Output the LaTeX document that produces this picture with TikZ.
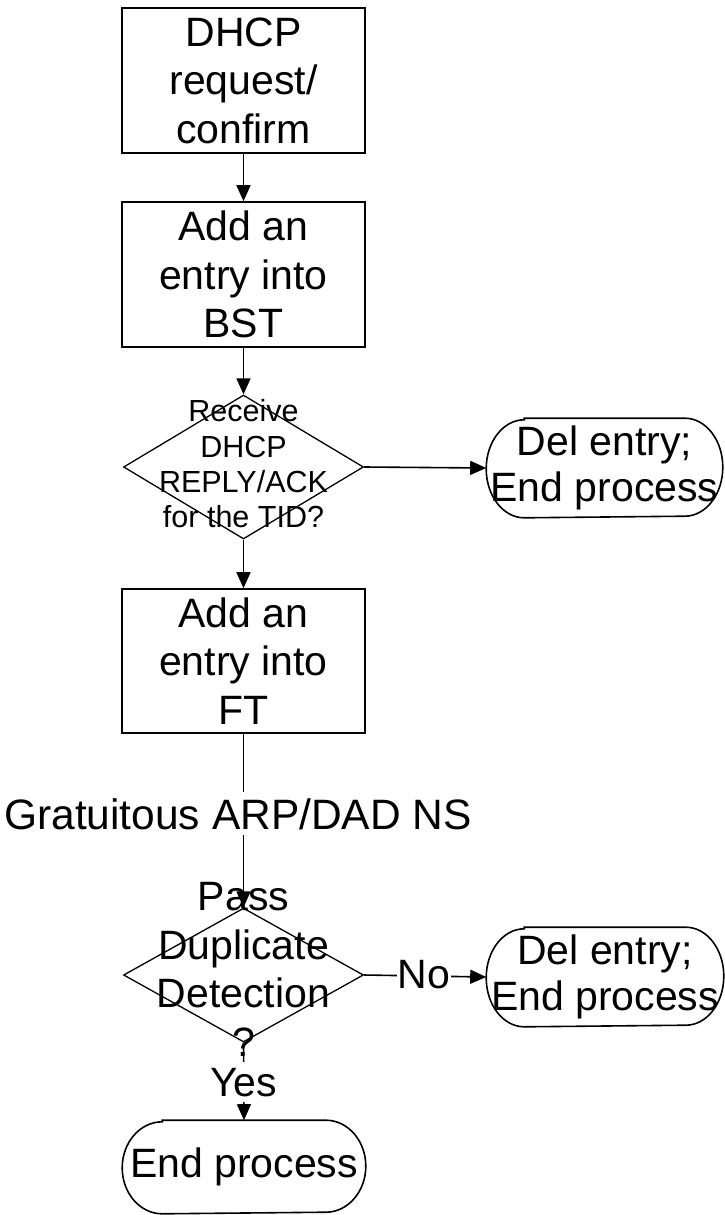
\documentclass[tikz,border=0pt]{standalone}
\usepackage{fontspec}
\setmainfont{Liberation Sans}
\usetikzlibrary{arrows.meta,shapes.geometric}

% stadium-like terminator outline drawn around a named node: #1 node, #2 end radius, #3 half height
\newcommand\terminatorline[3]{%
  \draw ([xshift=#2]#1.north west) -- ([xshift=-#2]#1.north east)
    arc[start angle=90, end angle=-90, x radius=#2, y radius=#3]
    -- ([xshift=#2]#1.south west)
    arc[start angle=270, end angle=90, x radius=#2, y radius=#3] -- cycle;}

\begin{document}
\begin{tikzpicture}[x=1pt,y=-1pt,
  line width=1.6pt,
  every node/.style={font=\fontsize{41}{48.5}\selectfont, align=center},
  procbox/.style={draw, rectangle, minimum width=243pt, minimum height=145pt, inner sep=0pt},
  decision/.style={draw, diamond, minimum width=240pt, minimum height=144pt, inner sep=0pt, line width=1.3pt},
  termspace/.style={rectangle, inner sep=0pt, font=\fontsize{41}{46}\selectfont},
  flow/.style={-{Triangle[length=16pt,width=14pt]}},
  onlabel/.style={fill=white, inner xsep=1pt, inner ysep=6pt}
]
\useasboundingbox (0,0) rectangle (724,1215);

% process steps
\node[procbox] (b1) at (243.5,80.5) {DHCP\\request/\\confirm};
\node[procbox] (b2) at (243.5,274.5) {Add an\\entry into\\BST};
\node[decision] (d1) at (243.5,467) {};
\node[font=\fontsize{30.5}{35.3}\selectfont] (d1t) at (243.5,464) {Receive\\DHCP\\REPLY/ACK\\for the TID?};
\node[termspace, minimum width=235pt, minimum height=98pt] (t1) at (604.5,468) {Del entry;\\End process};
\node[procbox, minimum height=144pt] (b3) at (243.5,661) {Add an\\entry into\\FT};
\node[decision, minimum height=134pt] (d2) at (243.5,975) {};
\node (d2t) at (243.5,969.5) {Pass\\Duplicate\\Detection\\?};
\node[termspace, minimum width=236pt, minimum height=98pt] (t2) at (605,977) {Del entry;\\End process};
\node[termspace, minimum width=242pt, minimum height=92pt] (t3) at (244,1167) {End process};

% terminator outlines
\terminatorline{t1}{38pt}{49pt}
\terminatorline{t2}{38pt}{49pt}
\terminatorline{t3}{40pt}{46pt}

% connectors
\draw[flow] (b1) -- (b2);
\draw[flow] (b2) -- (d1);
\draw[flow] (d1.east) -- (t1.west);
\draw[flow] (d1.south) -- (b3.north);
\draw[flow] (b3.south) -- (d2.north);
\draw[flow] (d2.east) -- (t2.west);
\draw[flow] (d2.south) -- (t3.north);

% connector labels
\node[onlabel, anchor=base, font=\fontsize{42.5}{48}\selectfont] (gl) at (238,829) {Gratuitous ARP/DAD NS};
\node[onlabel, anchor=base] (nl) at (424,988) {No};
\node[onlabel, anchor=base] (yl) at (243.5,1096) {Yes};
\end{tikzpicture}
\end{document}
